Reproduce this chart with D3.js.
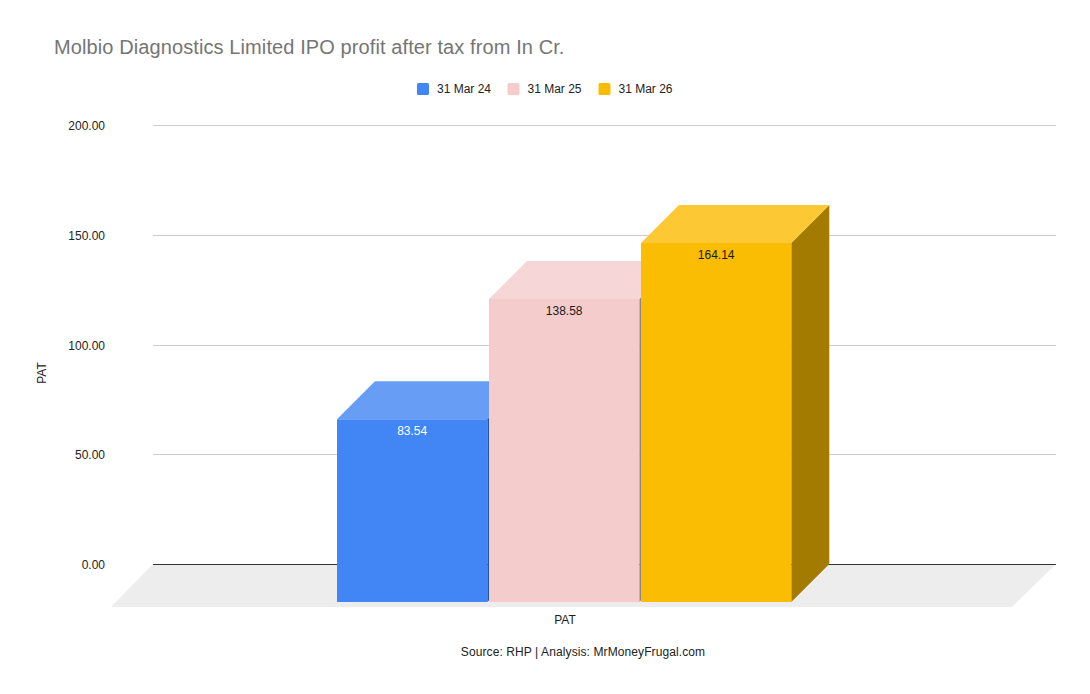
<!DOCTYPE html>
<html>
<head>
<meta charset="utf-8">
<script src="https://cdn.jsdelivr.net/npm/d3@7"></script>
<style>
    html, body { margin: 0; padding: 0; background: #fff; }
    svg { display: block; }
    text { font-family: "Liberation Sans", Arial, sans-serif; }
</style>
</head>
<body>
<div id="my_dataviz"></div>
<script>
// chart data
const categories = ["PAT"];
const seriesNames = ["31 Mar 24", "31 Mar 25", "31 Mar 26"];
const patValues = [83.54, 138.58, 164.14];
const yTicks = [0, 50, 100, 150, 200];

const frontColors = ["#4285f4", "#f4cccc", "#fbbc04"];
const topColors = ["#689df6", "#f6d6d6", "#fcc934"];
const sideColors = ["#24529f", "#8f8484", "#a37b00"];
const labelColors = ["#ffffff", "#1a1a1a", "#1a1a1a"];

var width = 1090;
var height = 694;

// 3d offset between the back wall and the front of the bars
var depth = 38;

var svg = d3.select("#my_dataviz")
    .append("svg")
    .attr("width", width)
    .attr("height", height);

// grid lines snap to whole pixels, bars don't
var yScale = d3.scaleLinear().domain([0, 200]).rangeRound([564, 125]);
var barScale = d3.scaleLinear().domain([0, 200]).range([564, 126.6]);

var xOuter = d3.scaleBand().domain(categories).range([110.5, 1017.8]).padding(0.3327);
var xInner = d3.scaleBand().domain(seriesNames)
    .range([xOuter("PAT"), xOuter("PAT") + xOuter.bandwidth()])
    .paddingInner(0.011);

// title
svg.append("text")
    .attr("x", 54)
    .attr("y", 54)
    .attr("font-size", "20px")
    .attr("letter-spacing", "0.1px")
    .attr("fill", "#757575")
    .text("Molbio Diagnostics Limited IPO profit after tax from In Cr.");

// floor
svg.append("polygon")
    .attr("points", [[153, 564], [1056, 564], [1012, 607], [111, 607]].join(" "))
    .attr("fill", "#ededed");

// Y axis + grid lines
var yAxis = svg.append("g")
    .attr("transform", "translate(153,0)")
    .call(d3.axisLeft(yScale)
        .tickValues(yTicks)
        .tickFormat(d3.format(".2f"))
        .tickSize(-903)
        .tickPadding(48));
yAxis.select(".domain").remove();
yAxis.selectAll(".tick line")
    .attr("stroke", d => d == 0 ? "#333333" : "#cccccc");
yAxis.selectAll(".tick text")
    .attr("font-family", "'Liberation Sans', Arial, sans-serif")
    .attr("font-size", "12px")
    .attr("dy", "0.4em")
    .attr("fill", "#222222");

// bars, each one is front + top + side
var bars = svg.append("g")
    .selectAll("g")
    .data(patValues)
    .enter().append("g");

function x0(i) { return xInner(seriesNames[i]); }
function x1(i) { return x0(i) + xInner.bandwidth(); }

bars.append("polygon")
    .attr("fill", (d, i) => sideColors[i])
    .attr("points", (d, i) => [
        [x1(i), barScale(d) + depth],
        [x1(i) + depth, barScale(d)],
        [x1(i) + depth, barScale(0)],
        [x1(i), barScale(0) + depth]
    ].join(" "));

bars.append("polygon")
    .attr("fill", (d, i) => topColors[i])
    .attr("points", (d, i) => [
        [x0(i), barScale(d) + depth],
        [x0(i) + depth, barScale(d)],
        [x1(i) + depth, barScale(d)],
        [x1(i), barScale(d) + depth]
    ].join(" "));

bars.append("rect")
    .attr("fill", (d, i) => frontColors[i])
    .attr("x", (d, i) => x0(i))
    .attr("y", d => barScale(d) + depth)
    .attr("width", xInner.bandwidth())
    .attr("height", d => barScale(0) - barScale(d));

// value labels
bars.append("text")
    .attr("x", (d, i) => x0(i) + xInner.bandwidth() / 2)
    .attr("y", d => barScale(d) + depth + 16)
    .attr("text-anchor", "middle")
    .attr("font-size", "12px")
    .attr("fill", (d, i) => labelColors[i])
    .text(d => d3.format(".2f")(d));

// legend
var legendX = [417, 507.5, 598.5];
var legend = svg.append("g")
    .selectAll("g")
    .data(seriesNames)
    .enter().append("g")
    .attr("transform", (d, i) => "translate(" + legendX[i] + ",83)");
legend.append("rect")
    .attr("width", 12)
    .attr("height", 12)
    .attr("rx", 1.5)
    .attr("fill", (d, i) => frontColors[i]);
legend.append("text")
    .attr("x", 20)
    .attr("y", 10)
    .attr("font-size", "12px")
    .attr("fill", "#222222")
    .text(d => d);

// axis titles
svg.append("text")
    .attr("transform", "translate(46,373) rotate(-90)")
    .attr("text-anchor", "middle")
    .attr("font-size", "12px")
    .attr("fill", "#222222")
    .text("PAT");

svg.append("text")
    .attr("x", 565)
    .attr("y", 624)
    .attr("text-anchor", "middle")
    .attr("font-size", "12px")
    .attr("fill", "#222222")
    .text(categories[0]);

svg.append("text")
    .attr("x", 583)
    .attr("y", 656)
    .attr("text-anchor", "middle")
    .attr("font-size", "12px")
    .attr("letter-spacing", "0.1px")
    .attr("fill", "#222222")
    .text("Source: RHP | Analysis: MrMoneyFrugal.com");
</script>
</body>
</html>
